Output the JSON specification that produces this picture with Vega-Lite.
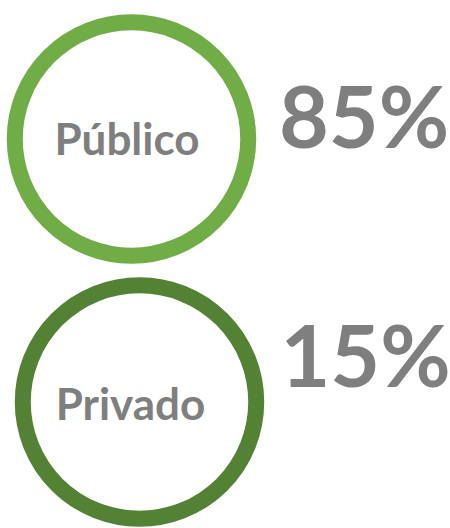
{
  "$schema": "https://vega.github.io/schema/vega-lite/v6.json",
  "width": 450,
  "height": 528,
  "padding": 0,
  "autosize": {"type": "none"},
  "background": "white",
  "config": {"view": {"stroke": null}},
  "data": {"values": [
    {"label": "Público", "pct": "85%", "value": 85},
    {"label": "Privado", "pct": "15%", "value": 15}
  ]},
  "resolve": {"scale": {"x": "independent", "y": "independent", "color": "independent"}},
  "layer": [
    {
      "mark": {"type": "point", "shape": "circle", "filled": false, "size": 54500, "strokeWidth": 16, "opacity": 1},
      "encoding": {
        "x": {"field": "label", "type": "nominal", "sort": null, "axis": null,
              "scale": {"type": "point", "padding": 0, "range": [131.5, 139.5]}},
        "y": {"field": "label", "type": "nominal", "sort": null, "axis": null,
              "scale": {"type": "point", "padding": 0, "range": [139, 402]}},
        "color": {"field": "label", "type": "nominal", "sort": null, "legend": null,
                  "scale": {"domain": ["Público", "Privado"], "range": ["#70AD47", "#548235"]}}
      }
    },
    {
      "mark": {"type": "text", "font": "Lato", "fontWeight": "bold", "fontSize": 44, "color": "#7F7F7F", "align": "center", "baseline": "alphabetic"},
      "encoding": {
        "x": {"field": "label", "type": "nominal", "sort": null, "axis": null,
              "scale": {"type": "point", "padding": 0, "range": [127, 130.5]}},
        "y": {"field": "label", "type": "nominal", "sort": null, "axis": null,
              "scale": {"type": "point", "padding": 0, "range": [155, 420]}},
        "text": {"field": "label"}
      }
    },
    {
      "mark": {"type": "text", "font": "Lato", "fontWeight": "bold", "fontSize": 86, "color": "#7F7F7F", "align": "center", "baseline": "alphabetic"},
      "encoding": {
        "x": {"field": "label", "type": "nominal", "sort": null, "axis": null,
              "scale": {"type": "point", "padding": 0, "range": [364, 365.5]}},
        "y": {"field": "label", "type": "nominal", "sort": null, "axis": null,
              "scale": {"type": "point", "padding": 0, "range": [148, 387]}},
        "text": {"field": "pct"}
      }
    }
  ]
}
